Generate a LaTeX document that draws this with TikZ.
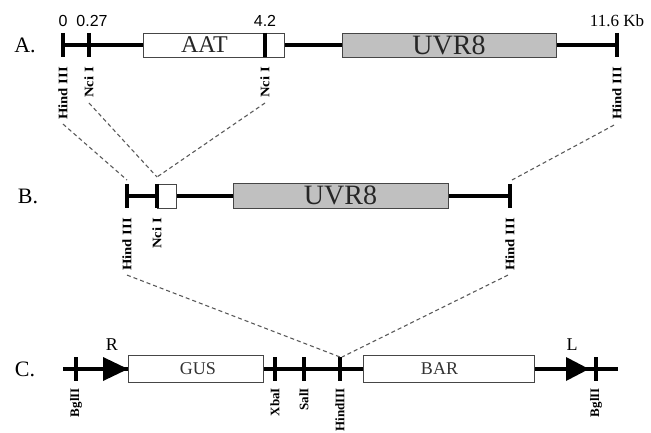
\documentclass[tikz,border=0pt]{standalone}
\usepackage{fontspec}
\setmainfont{Liberation Serif}
\newfontfamily\numsans{Liberation Sans}
\definecolor{uvgray}{RGB}{192,192,192}
\definecolor{boxline}{RGB}{70,70,70}
\definecolor{linkgray}{RGB}{90,90,90}
\newcommand{\sitetxt}[1]{\scalebox{1.13}[1]{#1}}
\begin{document}
\begin{tikzpicture}[x=1pt,y=-1pt,
  bbone/.style={line width=3.5pt},
  tickmk/.style={line width=4.5pt},
  gbox/.style={draw=boxline,line width=0.9pt,inner sep=0pt,fill=white},
  site/.style={rotate=90,anchor=east,inner sep=0pt,font=\fontsize{13}{13}\selectfont\bfseries},
  link/.style={draw=linkgray,dash pattern=on 4pt off 3pt,line width=1.1pt},
  rowlbl/.style={inner sep=0pt,font=\fontsize{22}{22}\selectfont},
  num/.style={inner sep=0pt,font=\fontsize{16}{16}\selectfont\numsans},
  numser/.style={inner sep=0pt,font=\fontsize{17}{17}\selectfont},
  big/.style={inner sep=0pt,text=black!85,font=\fontsize{28}{28}\selectfont},
  mid/.style={inner sep=0pt,text=black!85,font=\fontsize{24}{24}\selectfont},
  small/.style={inner sep=0pt,text=black!80,font=\fontsize{18}{18}\selectfont},
]
\useasboundingbox (0,0) rectangle (651,433);

% ---------- Row A ----------
\node[rowlbl] (A) at (25,45) {A.};
\coordinate (a0) at (63,45);
\coordinate (a1) at (89,45);
\coordinate (a2) at (265,45);
\coordinate (a3) at (617,45);
\draw[bbone] (a0) -- (a3);
\node[gbox,minimum width=141pt,minimum height=24pt] (aat) at (213.5,45) {};
\node[gbox,fill=uvgray,minimum width=214pt,minimum height=24pt] (uvA) at (449,45) {};
\node[mid] (aatT) at ([xshift=-9pt]aat.center) {AAT};
\node[big] (uvAT) at (uvA.center) {UVR8};
\foreach \c in {a0,a1,a2,a3} \draw[tickmk] ([yshift=12pt]\c) -- ([yshift=-12pt]\c);
\node[num] (n0) at (63,21) {0};
\node[num] (n1) at (92,21) {0.27};
\node[num] (n2) at (265,21) {4.2};
\node[numser] (n3) at (617,21) {11.6 Kb};
\node[site] (lA0) at (63,67) {\sitetxt{Hind III}};
\node[site] (lA1) at (89,67) {\sitetxt{Nci I}};
\node[site] (lA2) at (265,67) {\sitetxt{Nci I}};
\node[site] (lA3) at (617,67) {\sitetxt{Hind III}};

% ---------- Row B ----------
\node[rowlbl] (B) at (28,196) {B.};
\coordinate (b0) at (127,196);
\coordinate (b1) at (157,196);
\coordinate (b2) at (510,196);
\draw[bbone] (b0) -- (b2);
\node[gbox,minimum width=19pt,minimum height=24pt] (sb) at (166.5,196) {};
\node[gbox,fill=uvgray,minimum width=215pt,minimum height=25pt] (uvB) at (340.5,195.5) {};
\node[big] (uvBT) at (uvB.center) {UVR8};
\foreach \c in {b0,b1,b2} \draw[tickmk] ([yshift=12pt]\c) -- ([yshift=-12pt]\c);
\node[site] (lB0) at (127,218) {\sitetxt{Hind III}};
\node[site] (lB1) at (157,218) {\sitetxt{Nci I}};
\node[site] (lB2) at (510,218) {\sitetxt{Hind III}};

% ---------- Row C ----------
\node[rowlbl] (C) at (25,369) {C.};
\coordinate (cs) at (63,369);
\coordinate (ce) at (618,369);
\coordinate (c0) at (76,369);
\coordinate (cX) at (275,369);
\coordinate (cS) at (304,369);
\coordinate (cH) at (340,369);
\coordinate (c4) at (596,369);
\draw[bbone] (cs) -- (ce);
\node[gbox,minimum width=135pt,minimum height=27pt] (gus) at (195.5,368.5) {};
\node[gbox,minimum width=171pt,minimum height=27pt] (bar) at (448.5,368.5) {};
\node[small] (gusT) at ([xshift=2.5pt]gus.center) {GUS};
\node[small] (barT) at ([xshift=-9pt]bar.center) {BAR};
\fill (103,357) -- (128,369) -- (103,381) -- cycle;
\fill (566,357) -- (589,369) -- (566,381) -- cycle;
\node[small,text=black] (R) at (112,345) {R};
\node[small,text=black] (L) at (572,345) {L};
\foreach \c in {c0,cX,cS,cH,c4} \draw[tickmk,line width=4pt] ([yshift=12pt]\c) -- ([yshift=-12pt]\c);
\node[site] (lC0) at (76,388) {BglII};
\node[site] (lC1) at (275,388) {XbaI};
\node[site] (lC2) at (304,388) {SalI};
\node[site] (lC3) at (340,388) {HindIII};
\node[site] (lC4) at (596,388) {BglII};

% ---------- dashed links ----------
\draw[link] ([yshift=-4pt]lA0.west) -- ([yshift=16pt]b0);
\draw[link] ([yshift=-5pt]lA1.west) -- ([yshift=19pt]b1);
\draw[link] ([yshift=-5pt]lA2.west) -- ([yshift=19pt]b1);
\draw[link] ([xshift=-3pt,yshift=-5pt]lA3.west) -- ([xshift=2pt,yshift=16pt]b2);
\draw[link] ([yshift=-4pt]lB0.west) -- ([yshift=12pt]cH);
\draw[link] ([xshift=-2pt,yshift=-4pt]lB2.west) -- ([xshift=2pt,yshift=12pt]cH);
\end{tikzpicture}
\end{document}
